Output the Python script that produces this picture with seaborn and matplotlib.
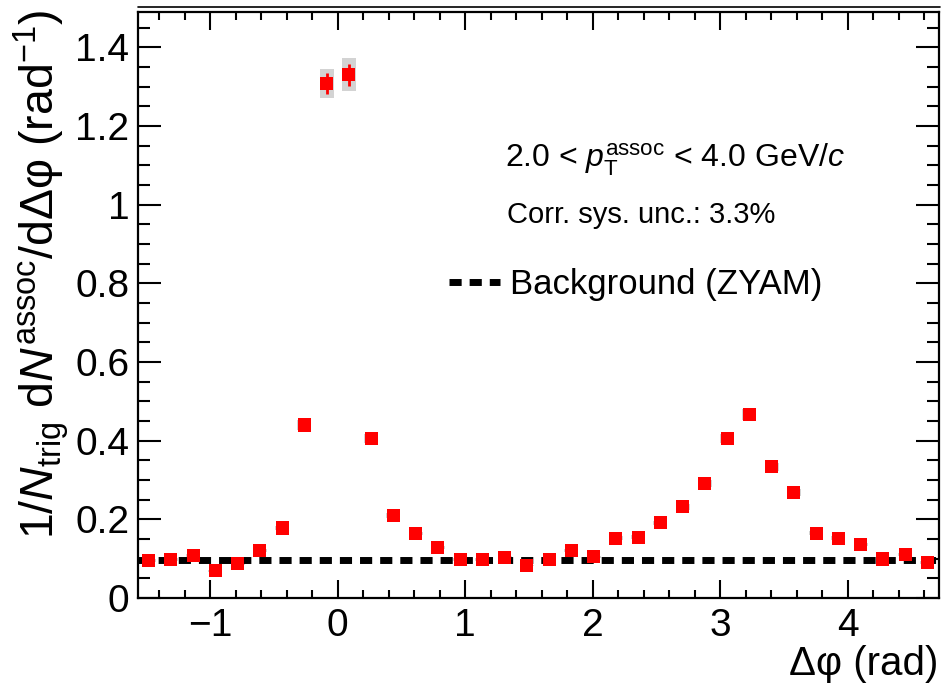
import numpy as np
import pandas as pd
import matplotlib
matplotlib.use("Agg")
import matplotlib.pyplot as plt
from matplotlib.lines import Line2D
from matplotlib.ticker import MultipleLocator, FormatStrFormatter
import seaborn as sns

# Per-trigger associated yield vs. azimuthal difference, 36 bins over [-pi/2, 3pi/2)
yield_vals = [0.095, 0.098, 0.108, 0.069, 0.087, 0.121, 0.178, 0.440, 1.308, 1.331,
              0.405, 0.210, 0.164, 0.129, 0.098, 0.098, 0.104, 0.083, 0.098, 0.121,
              0.105, 0.152, 0.154, 0.191, 0.232, 0.292, 0.406, 0.467, 0.334, 0.268,
              0.165, 0.152, 0.135, 0.099, 0.111, 0.090]
stat_err = [0.004, 0.004, 0.004, 0.004, 0.004, 0.004, 0.005, 0.007, 0.027, 0.028,
            0.007, 0.005, 0.004, 0.004, 0.004, 0.004, 0.004, 0.004, 0.004, 0.004,
            0.004, 0.004, 0.004, 0.005, 0.005, 0.006, 0.007, 0.008, 0.006, 0.005,
            0.004, 0.004, 0.004, 0.004, 0.004, 0.004]
sys_err = [0.003, 0.003, 0.003, 0.002, 0.003, 0.004, 0.005, 0.013, 0.037, 0.042,
           0.012, 0.006, 0.005, 0.004, 0.003, 0.003, 0.003, 0.002, 0.003, 0.004,
           0.003, 0.005, 0.005, 0.006, 0.007, 0.009, 0.012, 0.014, 0.010, 0.008,
           0.005, 0.005, 0.004, 0.003, 0.003, 0.003]
background_zyam = 0.097

phi_lo, phi_hi = -np.pi / 2, 3 * np.pi / 2
edges = np.linspace(phi_lo, phi_hi, len(yield_vals) + 1)
centers = 0.5 * (edges[:-1] + edges[1:])

df = pd.DataFrame({"dphi": centers, "yield": yield_vals,
                   "stat": stat_err, "sys": sys_err})

sns.set_theme(style="ticks")
plt.rcParams["font.family"] = ["Liberation Sans", "DejaVu Sans"]
plt.rcParams["mathtext.fontset"] = "custom"
plt.rcParams["mathtext.rm"] = "Liberation Sans"
plt.rcParams["mathtext.it"] = "Liberation Sans:italic"
plt.rcParams["mathtext.bf"] = "Liberation Sans:bold"
plt.rcParams["text.color"] = "black"
plt.rcParams["axes.labelcolor"] = "black"
plt.rcParams["legend.labelcolor"] = "black"

fig = plt.figure(figsize=(9.42, 6.85), dpi=100)
W, H = 942, 685
x0, x1, ytop, ybot = 137.5, 938.5, 12, 598
ax = fig.add_axes([x0 / W, (H - ybot) / H, (x1 - x0) / W, (ybot - ytop) / H])

# systematic uncertainty boxes
ax.bar(df["dphi"], 2 * df["sys"], bottom=df["yield"] - df["sys"], width=0.11,
       color="#d3d3d3", edgecolor="none", zorder=1)

# ZYAM background level
ax.plot([phi_lo, phi_hi], [background_zyam, background_zyam], color="black",
        lw=5.0, dashes=(1.75, 1.15), solid_capstyle="butt",
        dash_capstyle="butt", zorder=2, label="Background (ZYAM)")

# statistical error bars
ax.errorbar(df["dphi"], df["yield"], yerr=df["stat"], fmt="none",
            ecolor="red", elinewidth=2.0, capsize=0, zorder=3)

sns.scatterplot(data=df, x="dphi", y="yield", marker="s", color="red",
                s=90, edgecolor="none", linewidth=0, ax=ax, zorder=4)

ax.set_xlim(phi_lo, phi_hi)
ax.set_ylim(0, 1.49)

ax.xaxis.set_major_locator(MultipleLocator(1))
ax.xaxis.set_minor_locator(MultipleLocator(0.2))
ax.yaxis.set_major_locator(MultipleLocator(0.2))
ax.yaxis.set_minor_locator(MultipleLocator(0.05))
ax.yaxis.set_major_formatter(FormatStrFormatter("%g"))

for sp in ax.spines.values():
    sp.set_linewidth(1.6)
    sp.set_color("black")

ax.tick_params(axis="both", which="both", direction="in", top=True, right=True,
               width=1.5, color="black", labelsize=28, labelcolor="black")
ax.tick_params(axis="x", which="major", length=13, pad=7)
ax.tick_params(axis="x", which="minor", length=6)
ax.tick_params(axis="y", which="major", length=16.5, pad=6)
ax.tick_params(axis="y", which="minor", length=8.5)

ax.set_xlabel("Δφ (rad)", fontsize=29, loc="right", color="black")
ax.xaxis.set_label_coords(1.0, -0.08)
ax.set_ylabel(r"1/$N_{\mathrm{trig}}$ d$N^{\mathrm{assoc}}$/dΔφ (rad$^{-1}$)",
              fontsize=33.5, loc="top", color="black")
ax.yaxis.set_label_coords(-0.083, 1.005)

ax.text((505 - x0) / (x1 - x0), 1 - (160 - ytop) / (ybot - ytop),
        r"2.0 < $p_{\mathrm{T}}^{\mathrm{assoc}}$ < 4.0 GeV/$c$",
        transform=ax.transAxes, fontsize=23, va="center", ha="left", color="black")
ax.text((507 - x0) / (x1 - x0), 1 - (215 - ytop) / (ybot - ytop),
        "Corr. sys. unc.: 3.3%",
        transform=ax.transAxes, fontsize=21, va="center", ha="left", color="black")

leg = ax.legend(loc="center left",
                bbox_to_anchor=((449 - x0) / (x1 - x0), 1 - (285 - ytop) / (ybot - ytop)),
                frameon=False, fontsize=25, handlelength=1.47, handletextpad=0.28,
                borderpad=0, borderaxespad=0)

# thin rule above the frame
fig.add_artist(Line2D([x0 / W, (x1 + 1) / W], [1 - 6.5 / H, 1 - 6.5 / H],
                      color="black", lw=1.2))

fig.savefig("out.png", dpi=100)
